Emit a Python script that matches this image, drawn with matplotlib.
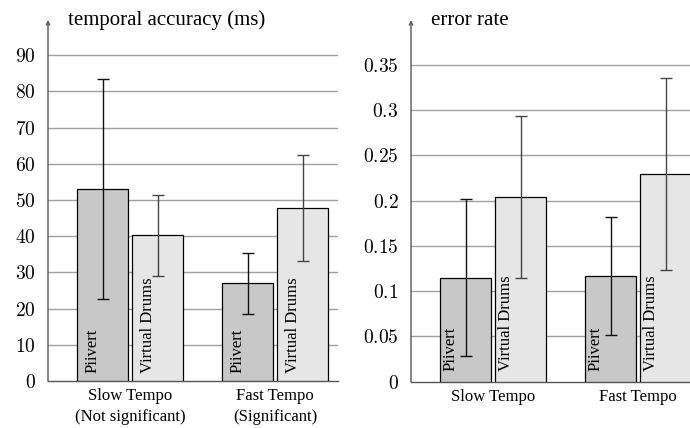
import matplotlib
matplotlib.use("Agg")
import matplotlib.pyplot as plt
import numpy as np

plt.rcParams['font.family'] = ['Liberation Serif', 'DejaVu Serif']
plt.rcParams['mathtext.fontset'] = 'cm'

# ---- data ----
series = ["Piivert", "Virtual Drums"]
acc_categories = ["Slow Tempo\n(Not significant)", "Fast Tempo\n(Significant)"]
acc_piivert = [53.0, 27.0]
acc_piivert_err = [30.4, 8.4]
acc_virtual = [40.2, 47.8]
acc_virtual_err = [11.2, 14.7]
acc_ticks = [0, 10, 20, 30, 40, 50, 60, 70, 80, 90]

err_categories = ["Slow Tempo", "Fast Tempo"]
err_piivert = [0.115, 0.117]
err_piivert_err = [0.087, 0.065]
err_virtual = [0.204, 0.229]
err_virtual_err = [0.089, 0.106]
err_ticks = [0, 0.05, 0.1, 0.15, 0.2, 0.25, 0.3, 0.35]

colors = ["#c8c8c8", "#e6e6e6"]
err_colors = ["#111111", "#444444"]

fig = plt.figure(figsize=(6.9, 4.28), dpi=100)
ax1 = fig.add_axes([48/690, 1-381/428, 290/690, 361/428])
ax2 = fig.add_axes([411/690, 1-381.7/428, 290/690, 361.7/428])

def draw(ax, cats, vals, errs, ticks, ylim_top, title, lab_dx, lab_dy):
    x = np.arange(len(cats))
    w = 0.352
    off = 0.19
    for s, (v, e) in enumerate(zip(vals, errs)):
        xs = x + (off if s else -off)
        ax.bar(xs, v, width=w, color=colors[s], edgecolor="black", linewidth=0.9, zorder=3)
        ax.errorbar(xs, v, yerr=e, fmt="none", ecolor=err_colors[s], elinewidth=1.0,
                    capsize=4.3, capthick=1.0, zorder=4)
        for xi in xs:
            ax.annotate(series[s], xy=(xi - w/2, 0), xytext=(lab_dx, lab_dy),
                        textcoords="offset points", rotation=90, rotation_mode="anchor",
                        ha="left", va="baseline", fontsize=12, zorder=5)
    ax.set_xlim(-0.566, -0.566 + 2.0)
    ax.set_ylim(0, ylim_top)
    ax.set_yticks(ticks)
    ax.set_yticklabels([f"${t:g}$" for t in ticks], fontsize=14)
    ax.set_xticks(x)
    ax.set_xticklabels(cats, fontsize=12, linespacing=1.45)
    ax.tick_params(axis="both", length=0)
    ax.tick_params(axis="y", pad=9)
    ax.tick_params(axis="x", pad=5)
    for t in ticks[1:]:
        ax.axhline(t, color="#a0a0a0", linewidth=1.0, zorder=1)
    for sp in ["top", "right", "left"]:
        ax.spines[sp].set_visible(False)
    ax.spines["bottom"].set_color("#555555")
    ax.spines["bottom"].set_linewidth(1.0)
    ax.annotate("", xy=(0, 1.0), xytext=(0, 0), xycoords="axes fraction",
                textcoords="axes fraction",
                arrowprops=dict(arrowstyle="->,head_length=0.25,head_width=0.12",
                                color="#555555", lw=1.0, shrinkA=0, shrinkB=0))
    ax.annotate(title, xy=(0, 1.0), xycoords="axes fraction", xytext=(14.5, -0.3),
                textcoords="offset points", ha="left", va="center", fontsize=15)

draw(ax1, acc_categories, [acc_piivert, acc_virtual], [acc_piivert_err, acc_virtual_err],
     acc_ticks, 99.7, "temporal accuracy (ms)", 14.2, 5.8)
draw(ax2, err_categories, [err_piivert, err_virtual], [err_piivert_err, err_virtual_err],
     err_ticks, 0.3994, "error rate", 10.8, 7.9)

fig.savefig("out.png", dpi=100)
